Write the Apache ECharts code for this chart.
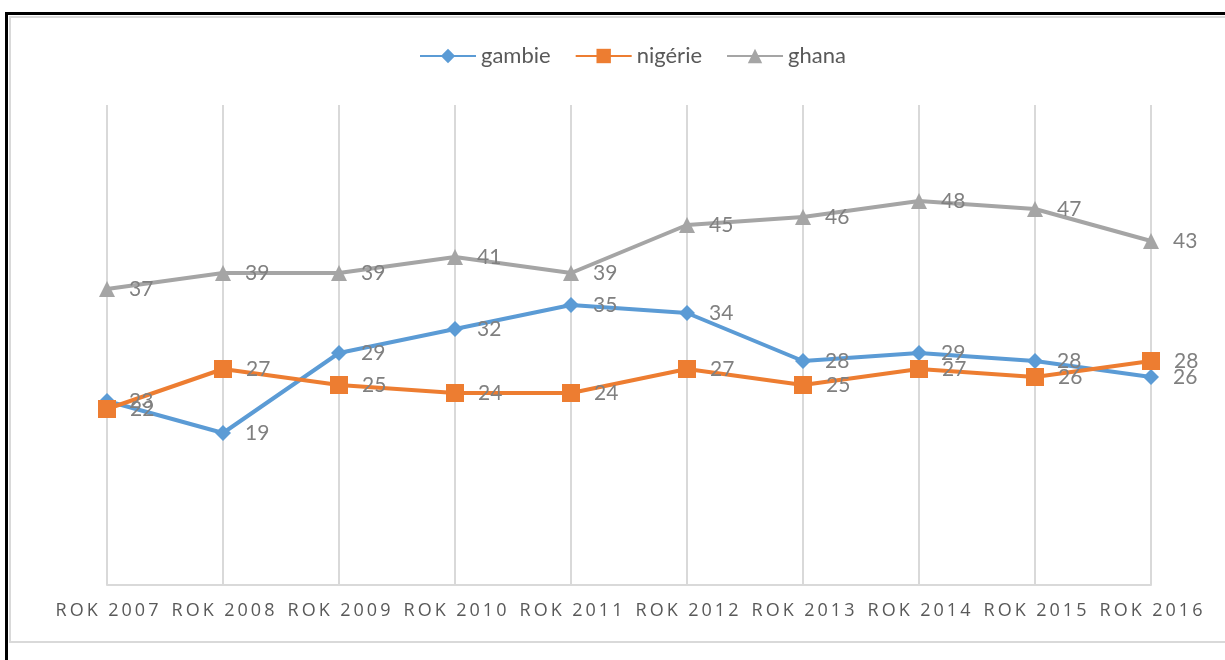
<!DOCTYPE html>
<html>
<head>
<meta charset="utf-8">
<script src="https://cdn.jsdelivr.net/npm/echarts@6/dist/echarts.min.js"></script>
<style>
  html, body { margin: 0; padding: 0; width: 1225px; height: 660px; overflow: hidden; background: #fff; }
  #outer { position: absolute; left: 5px; top: 12px; width: 1400px; height: 800px;
           border-top: 3px solid #000; border-left: 3px solid #000; }
  #inner { position: absolute; left: 9px; top: 16px; width: 1400px; height: 627px;
           border: 2px solid #d9d9d9; box-sizing: border-box; }
  #chart { position: absolute; left: 0; top: 0; width: 1225px; height: 660px; }
</style>
</head>
<body>
<div id="outer"></div>
<div id="inner"></div>
<div id="chart"></div>
<script>
// categories (years) and series values
const years = ['ROK 2007', 'ROK 2008', 'ROK 2009', 'ROK 2010', 'ROK 2011',
               'ROK 2012', 'ROK 2013', 'ROK 2014', 'ROK 2015', 'ROK 2016'];
const gambie  = [23, 19, 29, 32, 35, 34, 28, 29, 28, 26];
const nigerie = [22, 27, 25, 24, 24, 27, 25, 27, 26, 28];
const ghana   = [37, 39, 39, 41, 39, 45, 46, 48, 47, 43];

const labelFont = 'Lato, "Open Sans", sans-serif';

// spread the letters of the axis labels a little
function spaced(s) {
  return s.split('').join('\u2009');
}

function lineSeries(name, data, color, symbol, size) {
  return {
    name: name,
    type: 'line',
    data: data,
    symbol: symbol,
    symbolSize: size,
    showAllSymbol: true,
    lineStyle: { color: color, width: 4 },
    itemStyle: { color: color },
    label: {
      show: true,
      position: 'right',
      distance: 14,
      color: '#808080',
      fontSize: 21,
      fontFamily: labelFont
    },
    emphasis: { disabled: true },
    animation: false
  };
}

const chart = echarts.init(document.getElementById('chart'), null, { renderer: 'canvas' });
chart.setOption({
  backgroundColor: 'transparent',
  animation: false,
  legend: {
    left: 414,
    top: 40,
    itemWidth: 56,
    itemHeight: 18,
    itemGap: 24,
    textStyle: { color: '#595959', fontSize: 22, fontFamily: labelFont },
    data: ['gambie', 'nigérie', 'ghana']
  },
  grid: { left: 107, top: 105, width: 1044, height: 480, containLabel: false },
  xAxis: {
    type: 'category',
    data: years,
    boundaryGap: false,
    axisLine: { lineStyle: { color: '#d9d9d9', width: 2 } },
    axisTick: { show: false },
    splitLine: { show: true, interval: 0, lineStyle: { color: '#d9d9d9', width: 2 } },
    axisLabel: {
      interval: 0,
      margin: 17,
      color: '#595959',
      fontSize: 18,
      fontFamily: '"Open Sans", sans-serif',
      formatter: spaced
    }
  },
  yAxis: {
    type: 'value',
    min: 0,
    max: 60,
    interval: 10,
    show: false,
    splitLine: { show: false }
  },
  series: [
    lineSeries('gambie', gambie, '#5b9bd5', 'diamond', 16),
    lineSeries('nigérie', nigerie, '#ed7d31', 'rect', 18),
    lineSeries('ghana', ghana, '#a5a5a5', 'triangle', 16)
  ]
});
</script>
</body>
</html>
